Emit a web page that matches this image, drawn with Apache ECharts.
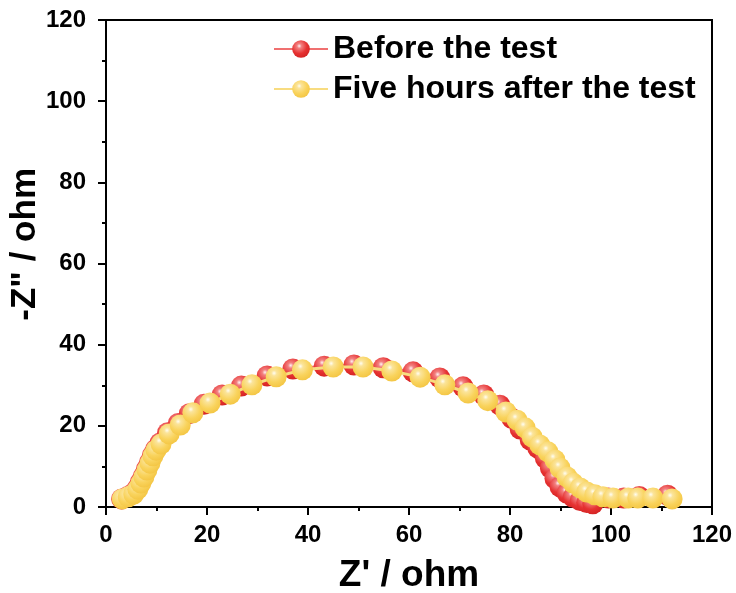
<!DOCTYPE html>
<html>
<head>
<meta charset="utf-8">
<script src="https://cdn.jsdelivr.net/npm/echarts@6/dist/echarts.min.js"></script>
<style>
html,body{margin:0;padding:0;background:#fff;}
#chart{width:736px;height:593px;}
</style>
</head>
<body>
<div id="chart"></div>
<script>
// ---- data ----
var seriesNames = ['Before the test', 'Five hours after the test'];
var beforeX = [3.1,4.3,5.4,6.2,6.8,7.4,8.0,8.6,9.2,9.8,10.7,12.2,14.3,16.5,19.4,23.0,26.8,31.9,37.0,43.2,49.1,54.9,60.8,66.1,70.7,74.8,78.0,80.4,82.0,84.0,85.5,87.0,88.0,88.9,89.9,91.3,92.5,93.9,95.2,96.4,99.5,102.5,105.6,111.2];
var beforeY = [2.0,2.6,3.4,4.6,6.1,7.6,9.3,11.0,12.8,14.2,15.8,18.3,20.6,23.0,25.3,27.6,29.8,32.3,34.0,34.7,35.0,34.3,33.3,31.8,29.6,27.6,25.1,21.8,19.2,16.5,14.5,12.0,9.6,7.0,5.0,3.4,2.4,1.6,1.1,0.8,2.2,2.2,2.6,2.9];
var afterX = [3.2,4.4,5.5,6.3,6.9,7.5,8.1,8.7,9.3,9.9,10.9,12.5,14.7,17.2,20.6,24.6,28.9,33.7,38.9,45.0,50.9,56.6,62.2,67.1,71.7,75.6,79.2,81.4,83.0,84.4,85.9,87.5,88.9,89.9,91.3,92.5,93.9,95.2,96.8,98.4,100.4,103.4,105.3,108.3,112.1];
var afterY = [2.0,2.5,3.2,4.4,5.9,7.4,9.1,10.8,12.6,14.0,15.5,18.0,20.2,23.2,25.6,27.8,30.1,32.1,33.8,34.5,34.5,33.5,32.0,30.1,28.1,26.2,23.4,21.4,19.5,17.2,15.3,13.6,11.6,9.6,7.4,5.9,4.7,3.7,3.0,2.5,2.2,2.2,2.2,2.2,2.0];
var xTitle = "Z' / ohm";
var yTitle = '-Z" / ohm';

function zip(xs, ys){ return xs.map(function(x,i){ return [x, ys[i]]; }); }
function sphere(c0,c1,c2,c3){
  return {type:'radial', x:0.4, y:0.33, r:0.72,
    colorStops:[{offset:0,color:c0},{offset:0.18,color:c1},{offset:0.6,color:c2},{offset:1,color:c3}]};
}
var font = 'Liberation Sans, Arial, Helvetica, sans-serif';
var chart = echarts.init(document.getElementById('chart'), null, {renderer:'canvas'});
var axisCommon = {
  min:0, max:120, interval:20,
  axisLine:{show:true, onZero:false, lineStyle:{color:'#000', width:2}},
  axisTick:{show:true, inside:false, length:8, lineStyle:{color:'#000', width:2}},
  minorTick:{show:true, splitNumber:2, length:4, lineStyle:{color:'#000', width:2}},
  splitLine:{show:false},
  axisLabel:{color:'#000', fontSize:24, fontWeight:'bold', fontFamily:font}
};
chart.setOption({
  animation:false,
  backgroundColor:'#fff',
  grid:{left:106, right:24, top:20, bottom:86, outerBoundsMode:'none', containLabel:false,
        show:true, borderColor:'#000', borderWidth:2, backgroundColor:'transparent'},
  legend:{
    orient:'vertical', left:268, top:28, itemGap:8, itemWidth:54, itemHeight:22,
    textStyle:{color:'#000', fontSize:32, fontWeight:'bold', fontFamily:font},
    data:seriesNames
  },
  graphic:[{
    type:'text', left:8, top:168, rotation:Math.PI/2,
    style:{text:yTitle, fill:'#000', font:'bold 35px ' + font}
  }],
  xAxis:Object.assign({}, axisCommon, {
    type:'value', name:xTitle, nameLocation:'middle', nameGap:50,
    nameTextStyle:{color:'#000', fontSize:37, fontWeight:'bold', fontFamily:font},
    axisLabel:Object.assign({}, axisCommon.axisLabel, {margin:16})
  }),
  yAxis:Object.assign({}, axisCommon, {
    type:'value',
    axisLabel:Object.assign({}, axisCommon.axisLabel, {margin:20})
  }),
  series:[
    {
      name:seriesNames[0], type:'line', data:zip(beforeX, beforeY),
      symbol:'circle', symbolSize:21, showAllSymbol:true, clip:false,
      lineStyle:{color:'#f07070', width:3},
      itemStyle:{color:sphere('#fff4f4','#f28080','#e63232','#d22222')},
      z:2
    },
    {
      name:seriesNames[1], type:'line', data:zip(afterX, afterY),
      symbol:'circle', symbolSize:21, showAllSymbol:true, clip:false,
      lineStyle:{color:'#f8dc80', width:3},
      itemStyle:{color:sphere('#fffdf2','#fbe49a','#f9d35c','#f3c441')},
      z:3
    }
  ]
});
</script>
</body>
</html>
